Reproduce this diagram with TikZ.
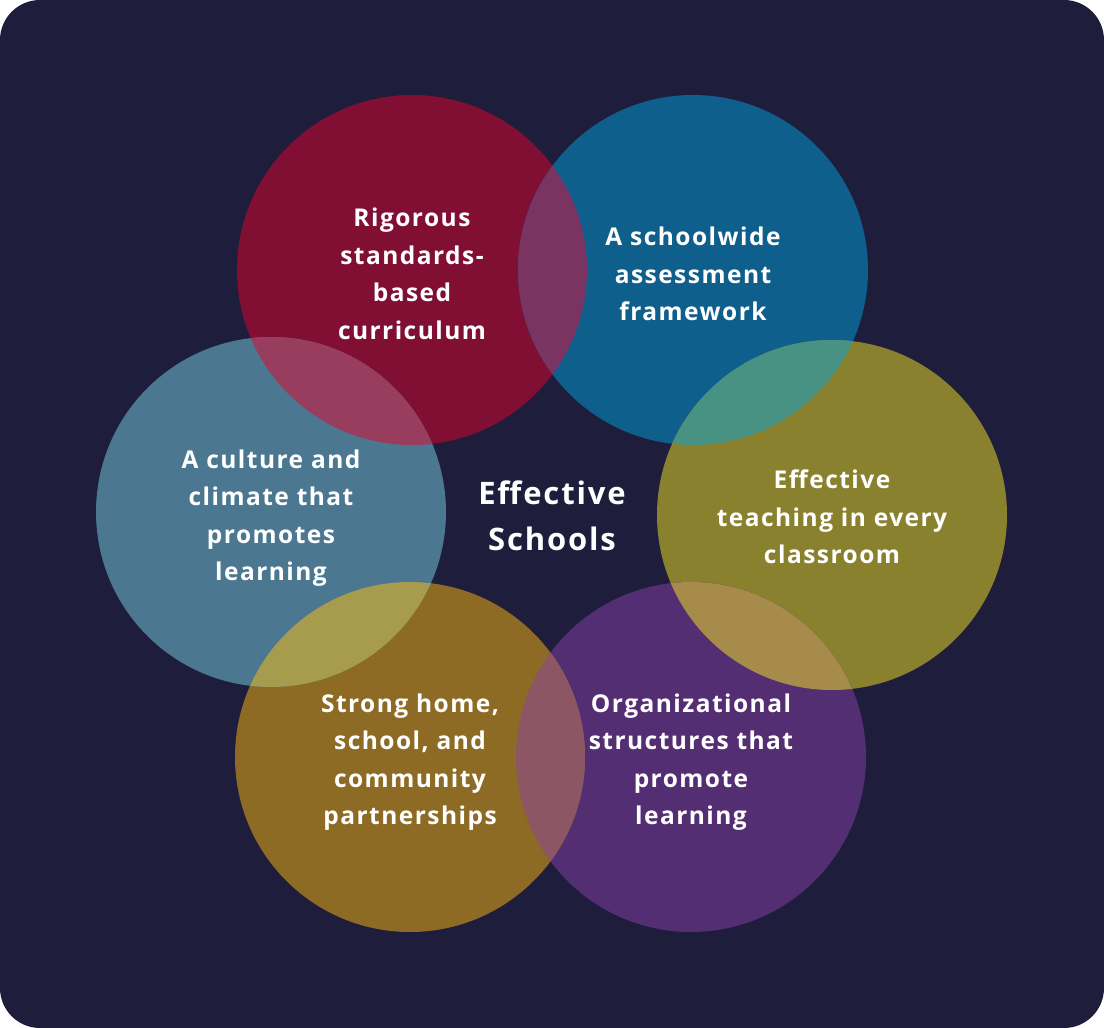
\documentclass[tikz,border=0pt]{standalone}
\usepackage{fontspec}
\setmainfont{Open Sans}[LetterSpace=6]
\begin{document}
\begin{tikzpicture}[x=1pt,y=-1pt]
\definecolor{bgc}{HTML}{1E1D3C}
\definecolor{cred}{HTML}{800F33}
\definecolor{cblue}{HTML}{0F5F8D}
\definecolor{colive}{HTML}{8A812E}
\definecolor{cpurple}{HTML}{542E72}
\definecolor{cbrown}{HTML}{8D6B24}
\definecolor{cteal}{HTML}{4B7791}
\definecolor{xrb}{HTML}{7A3462}
\definecolor{xrt}{HTML}{993D5E}
\definecolor{xbo}{HTML}{479283}
\definecolor{xop}{HTML}{A68B4A}
\definecolor{xpb}{HTML}{8C5665}
\definecolor{xtb}{HTML}{A79B4E}
\tikzset{
  bubble/.style={circle, minimum size=350pt, inner sep=0pt, fill=#1},
  lbl/.style={text=white, align=center, font=\bfseries\fontsize{24.5}{37.5}\selectfont},
}
\path[use as bounding box, fill=bgc, rounded corners=40pt] (0,0) rectangle (1104,1028);
% circles
\node[bubble=cred] (red) at (412,270) {};
\node[bubble=cblue] (blue) at (693,270) {};
\node[bubble=colive] (olive) at (832,515) {};
\node[bubble=cpurple] (purple) at (691,757) {};
\node[bubble=cbrown] (brown) at (410,757) {};
\node[bubble=cteal] (teal) at (271,512) {};
% overlaps
\begin{scope}\clip (red.center) circle (175pt); \fill[xrb] (blue.center) circle (175pt);\end{scope}
\begin{scope}\clip (red.center) circle (175pt); \fill[xrt] (teal.center) circle (175pt);\end{scope}
\begin{scope}\clip (blue.center) circle (175pt); \fill[xbo] (olive.center) circle (175pt);\end{scope}
\begin{scope}\clip (olive.center) circle (175pt); \fill[xop] (purple.center) circle (175pt);\end{scope}
\begin{scope}\clip (purple.center) circle (175pt); \fill[xpb] (brown.center) circle (175pt);\end{scope}
\begin{scope}\clip (teal.center) circle (175pt); \fill[xtb] (brown.center) circle (175pt);\end{scope}
% labels
\node[lbl] (tred) at (412,274) {Rigorous\\standards-\\based\\curriculum};
\node[lbl] (tblue) at (693,274) {A schoolwide\\assessment\\framework};
\node[lbl] (tolive) at (832,517) {Effective\\teaching in every\\classroom};
\node[lbl] (tpurple) at (691,762) {Organizational\\structures that\\promote\\learning};
\node[lbl] (tbrown) at (410,762) {Strong home,\\school, and\\community\\partnerships};
\node[lbl] (tteal) at (271,518) {A culture and\\climate that\\promotes\\learning};
\node[text=white, align=center, font=\bfseries\fontsize{31}{46}\selectfont] (center) at (552,516) {Effective\\Schools};
\end{tikzpicture}
\end{document}
